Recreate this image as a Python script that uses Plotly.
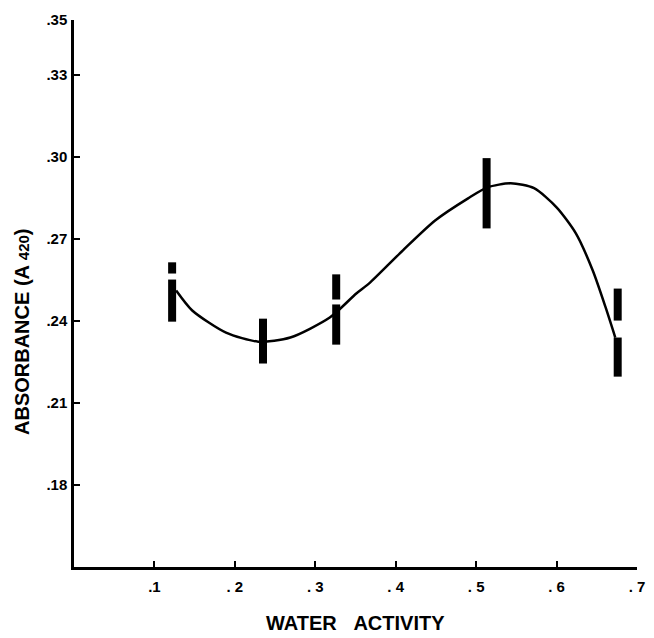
import plotly.graph_objects as go

# Smooth fitted curve
curve_x = [0.127, 0.147, 0.189, 0.229, 0.269, 0.318, 0.351, 0.367, 0.409, 0.449,
           0.490, 0.514, 0.543, 0.572, 0.600, 0.624, 0.645, 0.661, 0.673]
curve_y = [0.2511, 0.2438, 0.2357, 0.2324, 0.2339, 0.2412, 0.2500, 0.2537, 0.2658, 0.2767,
           0.2848, 0.2888, 0.2903, 0.2885, 0.2815, 0.2720, 0.2584, 0.2449, 0.2339]

# Vertical range bars (replicate ranges)
bar_x    = [0.122, 0.122, 0.235, 0.326, 0.326, 0.513, 0.676, 0.676]
bar_low  = [0.2573, 0.2397, 0.2244, 0.2478, 0.2313, 0.2738, 0.2401, 0.2196]
bar_high = [0.2614, 0.2551, 0.2408, 0.2570, 0.2460, 0.2995, 0.2518, 0.2339]

y_ticks = [0.35, 0.33, 0.30, 0.27, 0.24, 0.21, 0.18]
y_tick_text = [".35", ".33", ".30", ".27", ".24", ".21", ".18"]
x_ticks = [0.1, 0.2, 0.3, 0.4, 0.5, 0.6, 0.7]
x_tick_text = [".1", ". 2", ". 3", ". 4", ". 5", ". 6", ". 7"]

FONT = "Liberation Sans, Arial, Helvetica, sans-serif"

bx, by = [], []
for x, lo, hi in zip(bar_x, bar_low, bar_high):
    bx += [x, x, None]
    by += [lo, hi, None]

fig = go.Figure()
fig.add_trace(go.Scatter(x=bx, y=by, mode="lines",
                         line=dict(color="black", width=8), hoverinfo="skip",
                         showlegend=False))
fig.add_trace(go.Scatter(x=curve_x, y=curve_y, mode="lines",
                         line=dict(color="black", width=2.5, shape="spline", smoothing=0.7),
                         showlegend=False))

fig.update_layout(
    width=654, height=638,
    margin=dict(l=74, r=9, t=20, b=71),
    paper_bgcolor="white", plot_bgcolor="white",
    font=dict(family=FONT, color="black"),
    xaxis=dict(range=[0, 0.7], showgrid=False, zeroline=False,
               showline=True, linecolor="black", linewidth=2.5,
               tickmode="array", tickvals=x_ticks, ticktext=x_tick_text,
               ticks="inside", ticklen=6, tickwidth=2, tickcolor="black",
               tickfont=dict(family=FONT, size=15, weight="bold"),
               ticklabelstandoff=4),
    yaxis=dict(range=[0.15, 0.35], showgrid=False, zeroline=False,
               showline=True, linecolor="black", linewidth=2.5,
               tickmode="array", tickvals=y_ticks, ticktext=y_tick_text,
               ticks="inside", ticklen=6, tickwidth=2, tickcolor="black",
               tickfont=dict(family=FONT, size=15, weight="bold"),
               ticklabelstandoff=1),
    annotations=[
        dict(text="WATER\u00a0\u00a0\u00a0ACTIVITY", xref="paper", yref="paper",
             x=0.5, y=-0.103, xanchor="center", yanchor="middle", showarrow=False,
             font=dict(family=FONT, size=20, weight="bold")),
        dict(text="ABSORBANCE (A <span style='font-size:15px'>420</span>)",
             xref="paper", yref="paper", x=-0.092, y=0.43, xanchor="center",
             yanchor="middle", textangle=-90, showarrow=False,
             font=dict(family=FONT, size=20, weight="bold")),
    ],
)

fig.write_html("out.html")
